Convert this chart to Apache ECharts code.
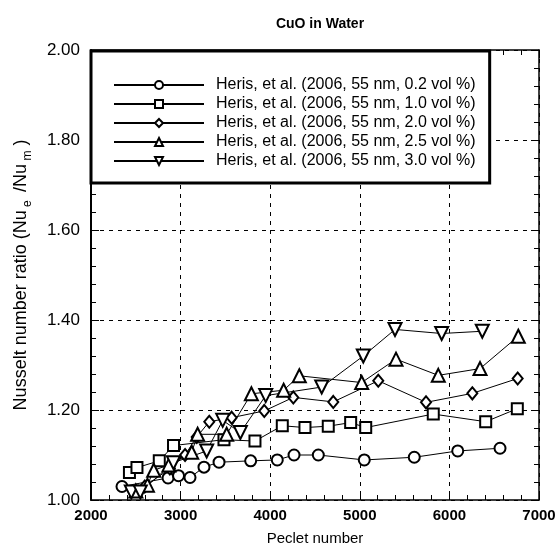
<!DOCTYPE html>
<html>
<head>
<meta charset="utf-8">
<script src="https://cdn.jsdelivr.net/npm/echarts@6/dist/echarts.min.js"></script>
<style>
  html, body { margin: 0; padding: 0; background: #fff; }
  #main { width: 559px; height: 551px; }
</style>
</head>
<body>
<div id="main"></div>
<script>
// Heris et al. 2006, CuO 55 nm, Nu ratio vs Peclet number
var circle02X = [2346, 2860, 2977, 3105, 3261, 3429, 3782, 4079, 4266, 4537, 5050, 5608, 6093, 6565]
var circle02Y = [1.030, 1.049, 1.054, 1.050, 1.073, 1.084, 1.087, 1.089, 1.100, 1.100, 1.089, 1.095, 1.109, 1.115]

var square10X = [2429, 2513, 2762, 2921, 3484, 3830, 4135, 4388, 4648, 4898, 5066, 5820, 6405, 6758]
var square10Y = [1.061, 1.072, 1.087, 1.121, 1.134, 1.131, 1.165, 1.161, 1.164, 1.172, 1.161, 1.191, 1.174, 1.203]

var diamond20X = [2600, 2880, 3050, 3180, 3320, 3570, 3934, 4258, 4704, 5206, 5739, 6256, 6762]
var diamond20Y = [1.030, 1.070, 1.100, 1.140, 1.174, 1.183, 1.198, 1.228, 1.218, 1.265, 1.217, 1.237, 1.270]

var triUp25X = [2500, 2630, 2700, 2870, 3124, 3190, 3514, 3790, 4150, 4325, 5021, 5404, 5876, 6342, 6769]
var triUp25Y = [1.020, 1.033, 1.066, 1.078, 1.106, 1.146, 1.146, 1.236, 1.244, 1.276, 1.261, 1.313, 1.277, 1.292, 1.364]

var triDown30X = [2450, 2550, 2920, 3291, 3470, 3667, 3950, 4575, 5039, 5393, 5914, 6367]
var triDown30Y = [1.018, 1.018, 1.083, 1.109, 1.177, 1.150, 1.232, 1.251, 1.320, 1.379, 1.370, 1.375]

var seriesNames = [
  'Heris, et al. (2006, 55 nm, 0.2 vol %)',
  'Heris, et al. (2006, 55 nm, 1.0 vol %)',
  'Heris, et al. (2006, 55 nm, 2.0 vol %)',
  'Heris, et al. (2006, 55 nm, 2.5 vol %)',
  'Heris, et al. (2006, 55 nm, 3.0 vol %)'
]

function pairs (xs, ys) {
  var out = []
  for (var i = 0; i < xs.length; i++) {
    out.push([xs[i], ys[i]])
  }
  return out
}

var FONT = 'Liberation Sans'
var myChart = echarts.init(document.getElementById('main'))

function mkSeries (name, xs, ys, symbol, size, rotate) {
  return {
    name: name,
    type: 'line',
    data: pairs(xs, ys),
    symbol: symbol,
    symbolSize: size,
    symbolRotate: rotate || 0,
    showAllSymbol: true,
    lineStyle: { color: '#000', width: 1 },
    itemStyle: { color: '#000', borderWidth: 1.2 },
    animation: false,
    z: 5
  }
}

var gridLine = { show: true, lineStyle: { color: '#000', type: [4, 5], width: 1 } }

var option = {
  backgroundColor: '#fff',
  title: {
    text: 'CuO in Water',
    left: 315,
    top: 12,
    textAlign: 'center',
    textStyle: { fontFamily: FONT, fontSize: 14, fontWeight: 'bold', color: '#000' }
  },
  grid: { left: 91, right: 20, top: 50, bottom: 50 },
  legend: {
    orient: 'vertical',
    left: 91,
    top: 51,
    data: seriesNames,
    itemWidth: 90,
    itemHeight: 10,
    itemGap: 3,
    padding: [26, 14, 14, 22],
    borderColor: '#000',
    borderWidth: 3,
    backgroundColor: '#fff',
    textStyle: { fontFamily: FONT, fontSize: 16, color: '#000', padding: [0, 0, 0, 7] },
    z: 10
  },
  xAxis: [
    {
      type: 'value',
      min: 2000,
      max: 7000,
      interval: 1000,
      name: 'Peclet number',
      nameLocation: 'middle',
      nameGap: 31,
      nameTextStyle: { fontFamily: FONT, fontSize: 15, color: '#000' },
      axisLine: { lineStyle: { color: '#000', width: 1.5 } },
      axisTick: { inside: true, length: 8, lineStyle: { color: '#000' } },
      minorTick: { show: true, splitNumber: 5, length: 5, lineStyle: { color: '#000' } },
      axisLabel: {
        fontFamily: FONT, fontSize: 15, fontWeight: 'bold', color: '#000', margin: 8,
        formatter: function (v) { return String(v) }
      },
      splitLine: gridLine
    },
    {
      type: 'value',
      position: 'top',
      min: 2000,
      max: 7000,
      interval: 1000,
      axisLine: { lineStyle: { color: '#000', width: 1.5 } },
      axisTick: { inside: true, length: 8, lineStyle: { color: '#000' } },
      minorTick: { show: true, splitNumber: 5, length: 5, lineStyle: { color: '#000' } },
      axisLabel: { show: false },
      splitLine: { show: false }
    }
  ],
  yAxis: [
    {
      type: 'value',
      min: 1.0,
      max: 2.0,
      interval: 0.2,
      name: '{a|Nusselt number ratio (Nu}{s| e }{a| /Nu}{s| m}{a| )}',
      nameLocation: 'middle',
      nameGap: 57,
      nameTextStyle: {
        fontFamily: FONT, fontSize: 18, color: '#000',
        rich: {
          a: { fontFamily: FONT, fontSize: 18, color: '#000', lineHeight: 26 },
          s: { fontFamily: FONT, fontSize: 12, color: '#000', lineHeight: 26, verticalAlign: 'bottom', padding: [10, 0, 0, 0] }
        }
      },
      axisLine: { lineStyle: { color: '#000', width: 2 } },
      axisTick: { inside: true, length: 8, lineStyle: { color: '#000' } },
      minorTick: { show: true, splitNumber: 5, length: 5, lineStyle: { color: '#000' } },
      axisLabel: {
        fontFamily: FONT, fontSize: 17, color: '#000', margin: 11,
        formatter: function (v) { return v.toFixed(2) }
      },
      splitLine: gridLine
    },
    {
      type: 'value',
      position: 'right',
      min: 1.0,
      max: 2.0,
      interval: 0.2,
      axisLine: { lineStyle: { color: '#000', width: 1.5 } },
      axisTick: { inside: true, length: 8, lineStyle: { color: '#000' } },
      minorTick: { show: true, splitNumber: 5, length: 5, lineStyle: { color: '#000' } },
      axisLabel: { show: false },
      splitLine: { show: false }
    }
  ],
  series: [
    mkSeries(seriesNames[0], circle02X, circle02Y, 'emptyCircle', 11),
    mkSeries(seriesNames[1], square10X, square10Y, 'emptyRect', 11),
    mkSeries(seriesNames[2], diamond20X, diamond20Y, 'emptyDiamond', [10, 12]),
    mkSeries(seriesNames[3], triUp25X, triUp25Y, 'emptyTriangle', 13),
    mkSeries(seriesNames[4], triDown30X, triDown30Y, 'emptyTriangle', 13, 180)
  ]
}
myChart.setOption(option)
</script>
</body>
</html>
